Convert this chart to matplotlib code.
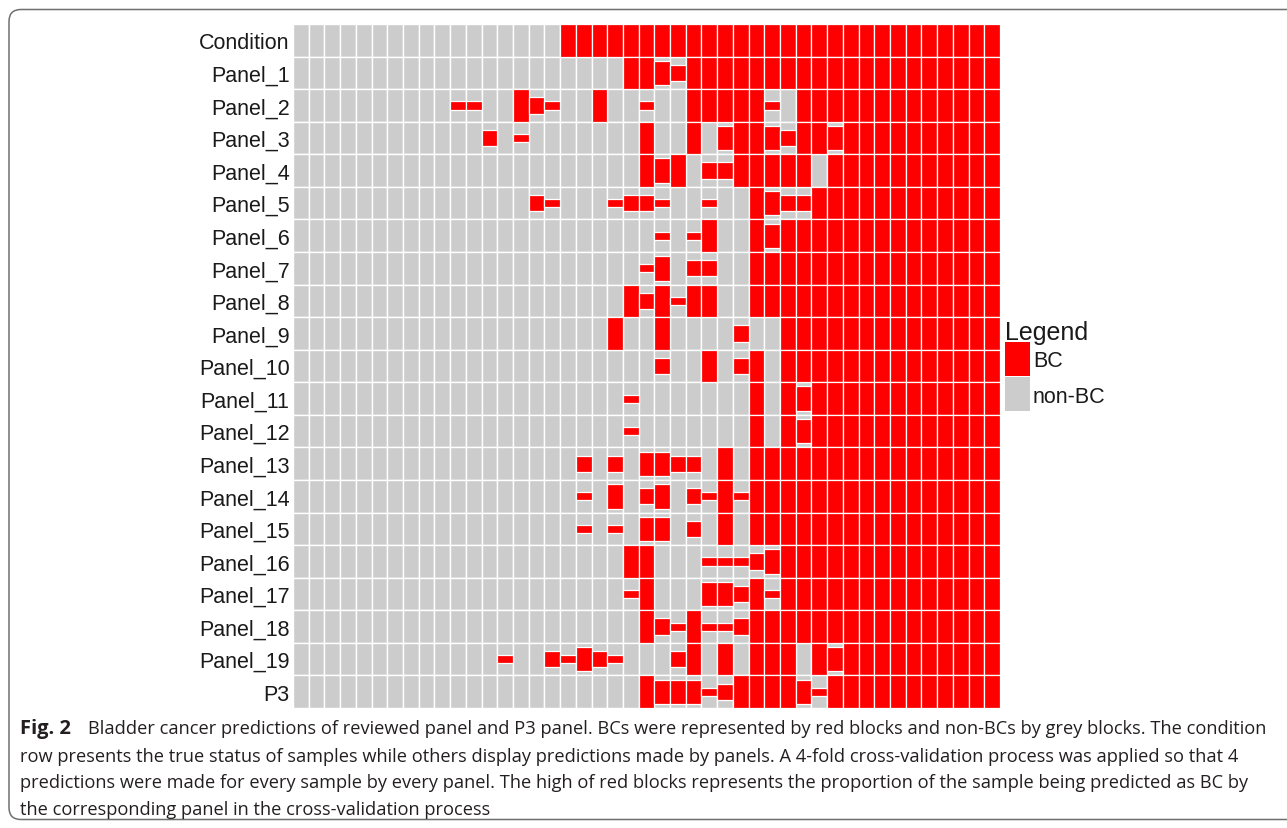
import numpy as np
import matplotlib
matplotlib.use("Agg")
import matplotlib.pyplot as plt
from matplotlib.patches import FancyBboxPatch, Rectangle
from matplotlib.transforms import IdentityTransform

row_labels = ["Condition"] + ["Panel_%d" % i for i in range(1, 20)] + ["P3"]

# how many of the 4 cross-validation folds called each of the 45 samples BC
# (0 = never, 4 = always); groups of 5 samples for readability
votes = [
    "00000 00000 00000 00444 44444 44444 44444 44444 44444",  # Condition
    "00000 00000 00000 00000 04432 44444 44444 44444 44444",  # Panel_1
    "00000 00000 11004 21004 00100 44444 10444 44444 44444",  # Panel_2
    "00000 00000 00201 00000 00400 40344 32443 44444 44444",  # Panel_3
    "00000 00000 00000 00000 00434 02244 44404 44444 44444",  # Panel_4
    "00000 00000 00000 21000 12210 01004 32244 44444 44444",  # Panel_5
    "00000 00000 00000 00000 00010 14004 34444 44444 44444",  # Panel_6
    "00000 00000 00000 00000 00130 22004 44444 44444 44444",  # Panel_7
    "00000 00000 00000 00000 04241 44004 44444 44444 44444",  # Panel_8
    "00000 00000 00000 00000 40040 00020 04444 44444 44444",  # Panel_9
    "00000 00000 00000 00000 00020 04024 04444 44444 44444",  # Panel_10
    "00000 00000 00000 00000 01000 00004 04344 44444 44444",  # Panel_11
    "00000 00000 00000 00000 01000 00004 04344 44444 44444",  # Panel_12
    "00000 00000 00000 00020 20332 20404 44444 44444 44444",  # Panel_13
    "00000 00000 00000 00010 30230 21414 44444 44444 44444",  # Panel_14
    "00000 00000 00000 00010 10330 20404 44444 44444 44444",  # Panel_15
    "00000 00000 00000 00000 04400 01112 34444 44444 44444",  # Panel_16
    "00000 00000 00000 00000 01400 03324 14444 44444 44444",  # Panel_17
    "00000 00000 00000 00000 00421 41124 44444 44444 44444",  # Panel_18
    "00000 00000 00010 02132 10002 40404 44043 44444 44444",  # Panel_19
    "00000 00000 00000 00000 00433 31244 44314 44444 44444",  # P3
]

caption_bold = "Fig. 2"
caption_lines = [
    "Bladder cancer predictions of reviewed panel and P3 panel. BCs were represented by red blocks and non-BCs by grey blocks. The condition",
    "row presents the true status of samples while others display predictions made by panels. A 4-fold cross-validation process was applied so that 4",
    "predictions were made for every sample by every panel. The high of red blocks represents the proportion of the sample being predicted as BC by",
    "the corresponding panel in the cross-validation process",
]

grid = np.array([[int(c) for c in r.replace(" ", "")] for r in votes])
frac = grid / 4.0
n_rows, n_cols = grid.shape

W, H = 1287, 829
fig = plt.figure(figsize=(W / 100, H / 100), dpi=100)
ax = fig.add_axes([293 / W, 1 - 709 / H, 707 / W, 684 / H])

GREY = "#cccccc"
RED = "#ff0000"

xs, ys = np.meshgrid(np.arange(n_cols), np.arange(n_rows))
xs, ys, fs = xs.ravel(), ys.ravel(), frac.ravel()

# grey tile for every cell, red tile scaled by the BC proportion
ax.bar(xs, 1, bottom=ys - 0.5, width=1, color=GREY, edgecolor="white", linewidth=1.0)
m = fs > 0
ax.bar(xs[m], fs[m], bottom=ys[m] - fs[m] / 2, width=1, color=RED,
       edgecolor="white", linewidth=0.9)

ax.set_xlim(-0.5, n_cols - 0.5)
ax.set_ylim(n_rows - 0.5, -0.5)
ax.set_xticks([])
ax.set_yticks(range(n_rows))
ax.set_yticklabels(row_labels, fontsize=15.5, family="Liberation Sans", color="#1a1a1a")
ax.tick_params(axis="y", length=0, pad=2.5)
for s in ax.spines.values():
    s.set_visible(False)


def px(x, y):
    return x / W, 1 - y / H


# legend
fig.text(*px(1005, 340), "Legend", fontsize=18, family="Liberation Sans",
         color="#1a1a1a", va="baseline", ha="left")
fig.add_artist(Rectangle(px(1005, 377), 25 / W, 34 / H, facecolor=RED,
                         edgecolor="none", transform=fig.transFigure))
fig.add_artist(Rectangle(px(1005, 412), 25 / W, 34 / H, facecolor=GREY,
                         edgecolor="none", transform=fig.transFigure))
fig.text(*px(1033, 367), "BC", fontsize=15.5, family="Liberation Sans",
         color="#1a1a1a", va="baseline", ha="left")
fig.text(*px(1033, 403), "non-BC", fontsize=15.5, family="Liberation Sans",
         color="#1a1a1a", va="baseline", ha="left")

# caption
cap_y = [734, 762, 788, 815]
cap_size = 13.15
fig.text(*px(20, cap_y[0]), caption_bold, fontsize=14.5, family="Open Sans",
         weight="bold", color="#231f20", va="baseline")
fig.text(*px(88, cap_y[0]), caption_lines[0], fontsize=cap_size, family="Open Sans",
         color="#231f20", va="baseline")
for line, y in zip(caption_lines[1:], cap_y[1:]):
    fig.text(*px(20, y), line, fontsize=cap_size, family="Open Sans",
             color="#231f20", va="baseline")

# rounded frame around the figure (runs off the right edge)
fig.add_artist(FancyBboxPatch((9, H - 820.5), 1320, 810,
                              boxstyle="round,pad=0,rounding_size=12",
                              facecolor="none", edgecolor="#707070", linewidth=1.1,
                              transform=IdentityTransform()))

fig.savefig("out.png", dpi=100)
